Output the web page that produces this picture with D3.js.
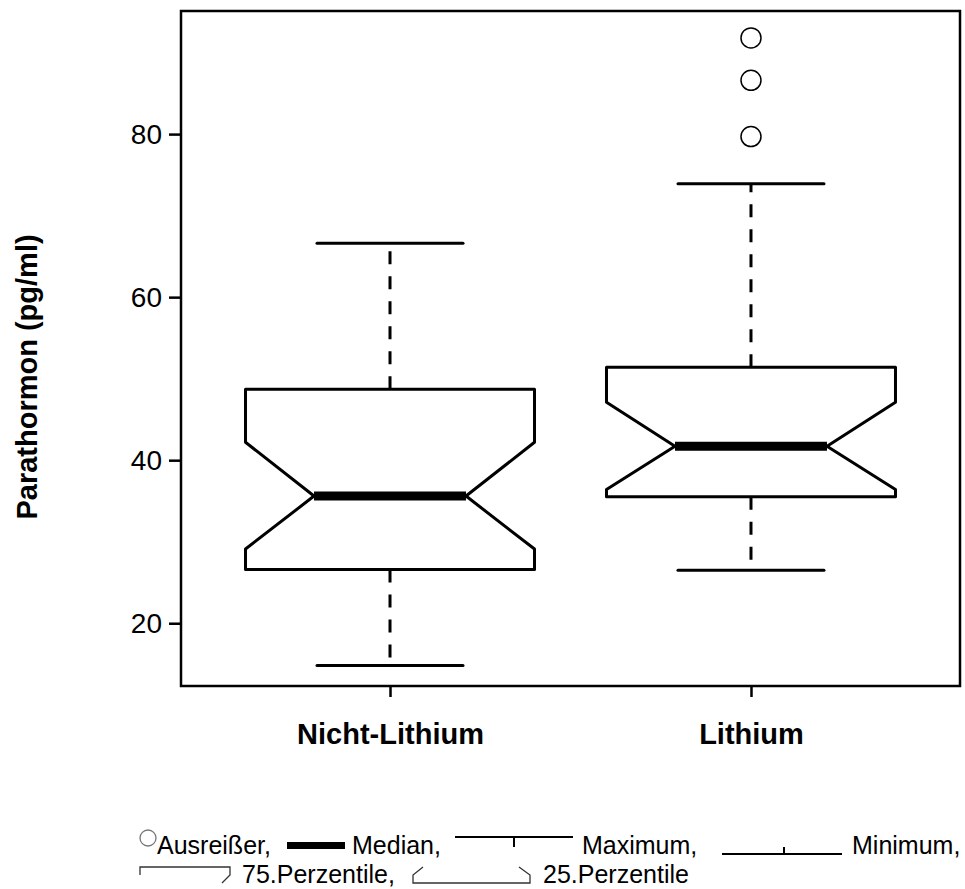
<!DOCTYPE html>
<html>
<head>
<meta charset="utf-8">
<script src="https://cdn.jsdelivr.net/npm/d3@7"></script>
<style>
  body { margin: 0; background: #fff; }
  text { font-family: "Liberation Sans", Arial, sans-serif; }
</style>
</head>
<body>
<div id="viz"></div>
<script>
var categories = ["Nicht-Lithium", "Lithium"]
var whiskerLow = [14.8, 26.5]
var q1 = [26.6, 35.5]
var notchLow = [29.1, 36.4]
var median = [35.6, 41.7]
var notchHigh = [42.2, 47.1]
var q3 = [48.7, 51.4]
var whiskerHigh = [66.6, 73.9]
var outliers = [[], [79.7, 86.6, 91.8]]
var yTicks = [20, 40, 60, 80]
var yLabel = "Parathormon (pg/ml)"
var legendRow1 = ["Ausreißer,", "Median,", "Maximum,", "Minimum,"]
var legendRow2 = ["75.Perzentile,", "25.Perzentile"]

var width = 965, height = 889
var margin = {top: 11, left: 181, right: 5, bottom: 203}

var svg = d3.select('#viz')
  .append('svg')
  .attr('width', width)
  .attr('height', height)
  .style('background', '#fff')

var xScale = d3.scalePoint()
  .domain(categories)
  .range([margin.left, width - margin.right])
  .padding(0.579)

var yScale = d3.scaleLinear()
  .domain([12.3, 95.1])
  .range([height - margin.bottom, margin.top])

var boxHalf = 144.5, notchHalf = 76, capHalf = 73

// axes
var yAxis = d3.axisLeft(yScale).tickValues(yTicks).tickSize(12).tickPadding(7)
var gy = svg.append('g')
  .attr('transform', 'translate(' + margin.left + ',0)')
  .call(yAxis)
gy.select('.domain').remove()
gy.selectAll('line').attr('stroke', '#000').attr('stroke-width', 2.5)
gy.selectAll('text').attr('font-size', 28).attr('fill', '#000')
  .style('font-family', '"Liberation Sans", Arial, sans-serif')

var xAxis = d3.axisBottom(xScale).tickSize(11).tickPadding(26)
var gx = svg.append('g')
  .attr('transform', 'translate(0,' + (height - margin.bottom) + ')')
  .call(xAxis)
gx.select('.domain').remove()
gx.selectAll('line').attr('stroke', '#000').attr('stroke-width', 2.5)
gx.selectAll('text').attr('font-size', 29).attr('font-weight', 'bold').attr('fill', '#000')
  .style('font-family', '"Liberation Sans", Arial, sans-serif')

svg.append('rect')
  .attr('x', margin.left)
  .attr('y', margin.top)
  .attr('width', width - margin.right - margin.left)
  .attr('height', height - margin.bottom - margin.top)
  .attr('fill', 'none')
  .attr('stroke', '#000')
  .attr('stroke-width', 2.5)

svg.append('text')
  .attr('transform', 'translate(37,377) rotate(-90)')
  .attr('text-anchor', 'middle')
  .attr('font-size', 29)
  .attr('font-weight', 'bold')
  .text(yLabel)

// boxes
var boxes = svg.append('g').selectAll('g')
  .data(categories)
  .enter().append('g')

boxes.append('line')
  .attr('x1', function(d) { return xScale(d) })
  .attr('x2', function(d) { return xScale(d) })
  .attr('y1', function(d, i) { return yScale(q3[i]) })
  .attr('y2', function(d, i) { return yScale(whiskerHigh[i]) })
  .attr('stroke', '#000').attr('stroke-width', 3).attr('stroke-dasharray', '13,12')

boxes.append('line')
  .attr('x1', function(d) { return xScale(d) })
  .attr('x2', function(d) { return xScale(d) })
  .attr('y1', function(d, i) { return yScale(q1[i]) })
  .attr('y2', function(d, i) { return yScale(whiskerLow[i]) })
  .attr('stroke', '#000').attr('stroke-width', 3).attr('stroke-dasharray', '13,12')

boxes.selectAll('.cap')
  .data(function(d, i) { return [whiskerLow[i], whiskerHigh[i]].map(function(v) { return {c: d, v: v} }) })
  .enter().append('line')
  .attr('x1', function(d) { return xScale(d.c) - capHalf })
  .attr('x2', function(d) { return xScale(d.c) + capHalf })
  .attr('y1', function(d) { return yScale(d.v) })
  .attr('y2', function(d) { return yScale(d.v) })
  .attr('stroke', '#000').attr('stroke-width', 3).attr('stroke-linecap', 'round')

boxes.append('path')
  .attr('d', function(d, i) {
    var x = xScale(d)
    var pts = [
      [x - boxHalf, yScale(q1[i])], [x - boxHalf, yScale(notchLow[i])],
      [x - notchHalf, yScale(median[i])], [x - boxHalf, yScale(notchHigh[i])],
      [x - boxHalf, yScale(q3[i])], [x + boxHalf, yScale(q3[i])],
      [x + boxHalf, yScale(notchHigh[i])], [x + notchHalf, yScale(median[i])],
      [x + boxHalf, yScale(notchLow[i])], [x + boxHalf, yScale(q1[i])]
    ]
    return d3.line()(pts) + 'Z'
  })
  .attr('fill', '#fff')
  .attr('stroke', '#000').attr('stroke-width', 3).attr('stroke-linejoin', 'round')

boxes.append('line')
  .attr('x1', function(d) { return xScale(d) - notchHalf })
  .attr('x2', function(d) { return xScale(d) + notchHalf })
  .attr('y1', function(d, i) { return yScale(median[i]) })
  .attr('y2', function(d, i) { return yScale(median[i]) })
  .attr('stroke', '#000').attr('stroke-width', 9)

boxes.selectAll('circle')
  .data(function(d, i) { return outliers[i].map(function(v) { return {c: d, v: v} }) })
  .enter().append('circle')
  .attr('cx', function(d) { return xScale(d.c) })
  .attr('cy', function(d) { return yScale(d.v) })
  .attr('r', 10)
  .attr('fill', 'none')
  .attr('stroke', '#000').attr('stroke-width', 1.5)

// legend
var leg = svg.append('g')
var row1 = [157, 352, 582, 852]
var row2 = [242, 543]
leg.selectAll('.r1').data(legendRow1).enter().append('text')
  .attr('x', function(d, i) { return row1[i] })
  .attr('y', 854)
  .attr('font-size', 25)
  .text(function(d) { return d })
leg.selectAll('.r2').data(legendRow2).enter().append('text')
  .attr('x', function(d, i) { return row2[i] })
  .attr('y', 883)
  .attr('font-size', 25)
  .text(function(d) { return d })

leg.append('circle').attr('cx', 148).attr('cy', 838).attr('r', 8)
  .attr('fill', '#fff').attr('stroke', '#777').attr('stroke-width', 1.3)
leg.append('rect').attr('x', 287).attr('y', 842).attr('width', 58).attr('height', 7)
leg.append('path').attr('d', 'M455,837H573M514,837V847')
  .attr('stroke', '#000').attr('stroke-width', 2).attr('fill', 'none')
leg.append('path').attr('d', 'M722,854H842M784,854V847')
  .attr('stroke', '#000').attr('stroke-width', 2).attr('fill', 'none')
leg.append('path').attr('d', 'M140,875V867H230V875L222,883')
  .attr('stroke', '#333').attr('stroke-width', 1.3).attr('fill', 'none')
leg.append('path').attr('d', 'M423,867L413,875V883H530V875L519,867')
  .attr('stroke', '#333').attr('stroke-width', 1.3).attr('fill', 'none')
</script>
</body>
</html>
